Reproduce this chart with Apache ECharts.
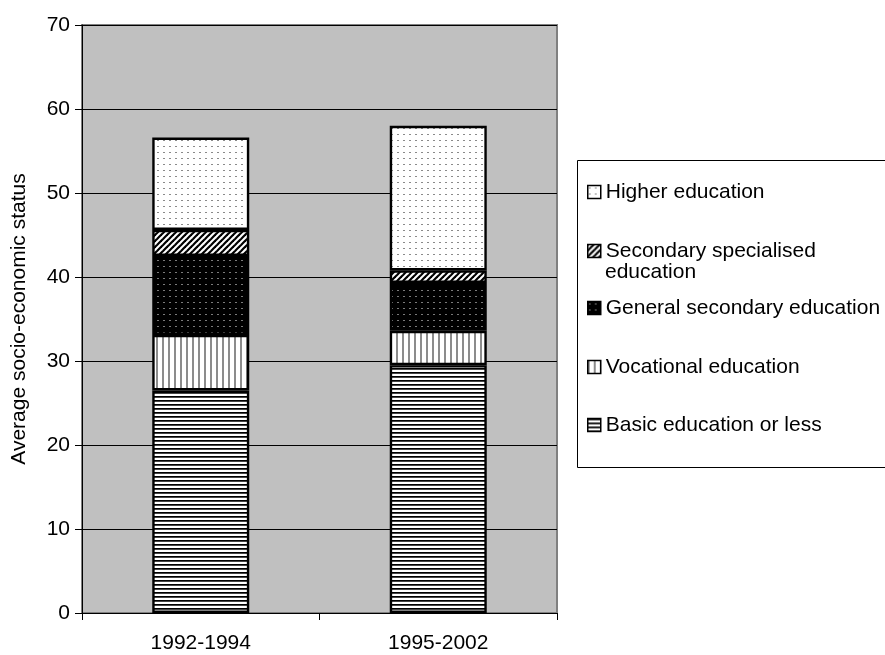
<!DOCTYPE html>
<html><head><meta charset="utf-8">
<script src="https://cdn.jsdelivr.net/npm/echarts@6/dist/echarts.min.js"></script>
<style>html,body{margin:0;padding:0;background:#fff}#c{width:885px;height:655px}</style>
</head><body><div id="c"></div>
<script>
// ---- data ----
const categories = ['1992-1994', '1995-2002'];
const basicEducation = [26.5, 29.5];
const vocationalEducation = [6.6, 4.1];
const generalSecondary = [9.4, 5.7];
const secondarySpecialised = [3.1, 1.5];
const higherEducation = [11.0, 17.2];
const seriesNames = ['Basic education or less', 'Vocational education', 'General secondary education', 'Secondary specialised education', 'Higher education'];
const yTickValues = [0, 10, 20, 30, 40, 50, 60, 70];

// ---- patterns ----
function tile(w, h, draw) {
  const c = document.createElement('canvas');
  c.width = w; c.height = h;
  const g = c.getContext('2d');
  draw(g, w, h);
  return { image: c, repeat: 'repeat' };
}
const patHigher = tile(6, 6, (g, w, h) => { g.fillStyle = '#fff'; g.fillRect(0, 0, w, h); g.fillStyle = '#8a8a8a'; g.fillRect(1, 2, 2, 1); });
const patGeneral = tile(6, 6, (g, w, h) => { g.fillStyle = '#000'; g.fillRect(0, 0, w, h); g.fillStyle = '#7a7a7a'; g.fillRect(1, 2, 2, 1); });
const patSecondary = tile(6, 6, (g, w, h) => {
  g.fillStyle = '#fff'; g.fillRect(0, 0, w, h);
  g.strokeStyle = '#000'; g.lineWidth = 2.2;
  for (let k = -6; k <= 6; k += 6) { g.beginPath(); g.moveTo(k - 1, 7); g.lineTo(k + 7, -1); g.stroke(); }
});
const patVocational = tile(6, 1, (g, w, h) => { g.fillStyle = '#fff'; g.fillRect(0, 0, w, h); g.fillStyle = '#8c8c8c'; g.fillRect(0, 0, 2, 1); });
const patBasic = tile(1, 4, (g, w, h) => { g.fillStyle = '#fff'; g.fillRect(0, 0, w, h); g.fillStyle = '#000'; g.fillRect(0, 0, 1, 1); g.fillStyle = '#444'; g.fillRect(0, 1, 1, 1); });

const seriesData = [basicEducation, vocationalEducation, generalSecondary, secondarySpecialised, higherEducation];
const patterns = [patBasic, patVocational, patGeneral, patSecondary, patHigher];

const FONT = '"Liberation Sans", Arial, sans-serif';

const legendLayout = [
  ['Higher education', 192],
  ['Secondary specialised education', 251],
  ['General secondary education', 308],
  ['Vocational education', 367],
  ['Basic education or less', 425]
];

const chart = echarts.init(document.getElementById('c'), null, { renderer: 'canvas' });
chart.setOption({
  animation: false,
  backgroundColor: '#fff',
  grid: { left: 82, right: 328, top: 25, bottom: 42, show: true, backgroundColor: '#c0c0c0', borderColor: '#808080', borderWidth: 2 },
  xAxis: {
    type: 'category', data: categories,
    axisLine: { lineStyle: { color: '#000', width: 1 } },
    axisTick: { show: true, length: 7, lineStyle: { color: '#000' } },
    axisLabel: { color: '#000', fontSize: 21, fontFamily: FONT, margin: 20 }
  },
  yAxis: {
    type: 'value', min: 0, max: 70, interval: 10,
    name: 'Average socio-economic status', nameLocation: 'middle', nameGap: 52,
    nameTextStyle: { color: '#000', fontSize: 21, fontFamily: FONT },
    axisLine: { show: true, lineStyle: { color: '#000', width: 1 } },
    axisTick: { show: true, length: 7, lineStyle: { color: '#000' } },
    axisLabel: { color: '#000', fontSize: 21, fontFamily: FONT, margin: 12 },
    splitLine: { show: true, lineStyle: { color: '#000', width: 1 } }
  },
  legend: legendLayout.map(([name, cy]) => ({
    data: [{ name, icon: 'rect' }], left: 587, top: cy - 12, orient: 'vertical', padding: 0,
    itemWidth: 13, itemHeight: 13, selectedMode: false,
    formatter: n => n === 'Secondary specialised education' ? 'Secondary specialised' : n,
    textStyle: { color: '#000', fontSize: 21, fontFamily: FONT, lineHeight: 24 },
    itemStyle: { borderColor: '#000', borderWidth: 1.5 }
  })),
  graphic: [
    { type: 'rect', left: 577, top: 160, z: -10, shape: { width: 330, height: 307 }, style: { fill: '#fff', stroke: '#000', lineWidth: 1 } },
    { type: 'text', left: 605, top: 262, style: { text: 'education', font: '21px ' + FONT, fill: '#000' } }
  ],
  series: seriesNames.map((name, i) => ({
    name, type: 'bar', stack: 'total', barWidth: 97,
    data: seriesData[i],
    itemStyle: { color: patterns[i], borderColor: '#000', borderWidth: 2.4 },
    emphasis: { disabled: true }
  }))
});
</script>
</body></html>
